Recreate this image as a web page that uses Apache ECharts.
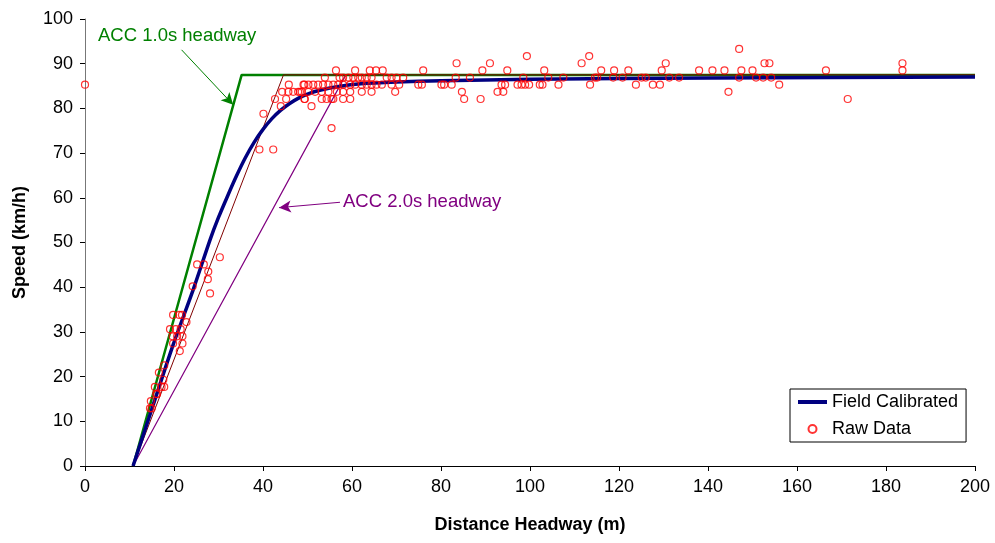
<!DOCTYPE html>
<html>
<head>
<meta charset="utf-8">
<script src="https://cdn.jsdelivr.net/npm/echarts@6/dist/echarts.min.js"></script>
<style>html,body{margin:0;padding:0;background:#fff}#c{width:995px;height:543px}</style>
</head>
<body>
<div id="c"></div>
<script>
// ---- data ----
const xMin = 0, xMax = 200, xStep = 20;
const yMin = 0, yMax = 100, yStep = 10;

const rawData = [
  [0,85.3],
  [14.6,12.9],[15.0,12.9],[14.8,14.5],[16.0,16.1],[16.2,16.1],[15.7,17.7],[17.2,17.7],[17.8,17.7],[17.6,19.3],
  [16.6,20.9],[17.8,22.5],[21.3,25.7],[19.8,27.4],[21.9,27.4],[19.7,29.0],[20.7,29.0],[21.9,29.0],[19.1,30.6],
  [20.4,30.6],[21.5,30.6],[22.8,32.2],[19.8,33.8],[21.2,33.8],[21.8,33.8],[28.1,38.6],[24.2,40.2],[27.6,41.8],
  [27.7,43.5],[25.2,45.1],[26.7,45.1],[30.3,46.7],
  [39.2,70.8],[42.3,70.8],[40.1,78.8],[44.0,80.5],[42.7,82.1],[45.2,82.1],[44.3,83.7],[45.7,83.7],[46.8,83.7],
  [47.9,83.7],[45.8,85.3],[48.3,83.7],[49.3,85.3],[49.3,82.1],[50.9,80.5],[55.4,75.6],
  [56.4,88.5],[60.7,88.5],[64.0,88.5],[65.4,88.5],[66.9,88.5],[76.0,88.5],
  [53.9,86.9],[57.2,86.9],[58.0,86.9],[59.2,86.9],[60.3,86.9],[61.4,86.9],[62.2,86.9],[63.3,86.9],[64.4,86.9],
  [67.8,86.9],[68.9,86.9],[70.0,86.9],[71.5,86.9],
  [49.1,85.3],[50.2,85.3],[51.3,85.3],[52.4,85.3],[53.5,85.3],[54.7,85.3],[55.8,85.3],[56.9,85.3],[58.0,85.3],
  [59.6,85.3],[60.7,85.3],[62.2,85.3],[63.3,85.3],[64.4,85.3],[65.5,85.3],[66.7,85.3],[68.9,85.3],[70.6,85.3],[74.9,85.3],
  [48.7,83.7],[50.2,83.7],[51.7,83.7],[53.2,83.7],[54.7,83.7],[56.6,83.7],[58.0,83.7],[59.6,83.7],[62.2,83.7],
  [64.4,83.7],[69.7,83.7],
  [49.4,82.1],[53.2,82.1],[54.3,82.1],[55.4,82.1],[58.0,82.1],[59.6,82.1],[55.8,82.1],
  [147.0,93.3],
  [99.3,91.7],[113.3,91.7],
  [83.5,90.1],[91.0,90.1],[111.6,90.1],[130.5,90.1],[152.7,90.1],[153.8,90.1],[183.7,90.1],
  [89.3,88.5],[94.9,88.5],[103.2,88.5],[116.0,88.5],[118.9,88.5],[122.1,88.5],[129.6,88.5],[138.0,88.5],
  [141.0,88.5],[143.7,88.5],[147.5,88.5],[150.0,88.5],[166.5,88.5],[183.7,88.5],
  [83.3,86.9],[86.5,86.9],[98.5,86.9],[104.1,86.9],[107.5,86.9],[114.6,86.9],[115.1,86.9],[118.7,86.9],
  [120.8,86.9],[125.1,86.9],[126.0,86.9],[131.3,86.9],[133.5,86.9],[147.0,86.9],[150.8,86.9],[152.4,86.9],[154.2,86.9],
  [75.7,85.3],[80.1,85.3],[80.7,85.3],[82.4,85.3],[93.6,85.3],[94.4,85.3],[97.2,85.3],[98.1,85.3],[98.9,85.3],
  [99.8,85.3],[102.2,85.3],[102.8,85.3],[106.4,85.3],[113.5,85.3],[123.8,85.3],[127.6,85.3],[129.2,85.3],[156.0,85.3],
  [84.7,83.7],[92.7,83.7],[94.0,83.7],[144.6,83.7],
  [85.2,82.1],[88.9,82.1],[171.4,82.1]
];

const fieldCalibrated = [
  [10.8,0],[15,12.7],[19.8,27.1],[24.3,39.4],[28.1,50.6],[30,55.6],[32,60.3],[34,64.8],[36,68.9],[38,72.4],
  [40,75.3],[42,77.7],[44,79.6],[46,81.1],[48,82.3],[50,83.2],[53,84.1],[57,84.9],[62,85.5],[70,85.9],
  [80,86.2],[100,86.5],[140,86.8],[200,87.0]
];

const acc10 = [[10.8,0],[35.2,87.5],[200,87.5]];
const accMid = [[10.8,0],[44.6,87.5],[200,87.5]];
const acc20 = [[10.8,0],[58.6,87.5],[200,87.5]];

const arrow10 = [[21.7,93.1],[33.3,80.8]];
const arrow20 = [[57.3,59.0],[43.6,57.8]];

const labels = {
  acc10: 'ACC 1.0s headway',
  acc20: 'ACC 2.0s headway',
  field: 'Field Calibrated',
  raw: 'Raw Data',
  xName: 'Distance Headway (m)',
  yName: 'Speed (km/h)'
};

// ---- chart ----
const FONT = '"Liberation Sans", Arial, sans-serif';
const chart = echarts.init(document.getElementById('c'), null, {renderer: 'canvas'});

const option = {
  animation: false,
  backgroundColor: '#fff',
  textStyle: {fontFamily: FONT},
  grid: {left: 85, right: 20, top: 19, bottom: 77, containLabel: false},
  xAxis: {
    type: 'value', min: xMin, max: xMax, interval: xStep,
    name: labels.xName, nameLocation: 'middle', nameGap: 50,
    nameTextStyle: {fontFamily: FONT, fontSize: 18, fontWeight: 'bold', color: '#000'},
    axisLine: {lineStyle: {color: '#000', width: 1}},
    axisTick: {show: true, inside: false, length: 5, lineStyle: {color: '#000'}},
    axisLabel: {fontFamily: FONT, fontSize: 18, color: '#000', margin: 12},
    splitLine: {show: false}
  },
  yAxis: {
    type: 'value', min: yMin, max: yMax, interval: yStep,
    name: labels.yName, nameLocation: 'middle', nameGap: 56, nameRotate: 90,
    nameTextStyle: {fontFamily: FONT, fontSize: 18, fontWeight: 'bold', color: '#000'},
    axisLine: {show: true, lineStyle: {color: '#777', width: 1}},
    axisTick: {show: true, inside: false, length: 5, lineStyle: {color: '#000'}},
    axisLabel: {fontFamily: FONT, fontSize: 18, color: '#000', margin: 12},
    splitLine: {show: false}
  },
  legend: {
    data: [
      {name: labels.field, itemStyle: {opacity: 0}, lineStyle: {width: 4, color: '#000080'}},
      {name: labels.raw}
    ],
    orient: 'vertical',
    left: 790, top: 389,
    padding: [4, 8, 4, 6],
    itemGap: 9,
    itemWidth: 29, itemHeight: 8,
    backgroundColor: '#fff',
    borderColor: '#000', borderWidth: 1, borderRadius: 0,
    textStyle: {fontFamily: FONT, fontSize: 18, color: '#000', lineHeight: 18}
  },
  series: [
    {
      name: 'acc20', type: 'line', data: acc20, showSymbol: false, symbol: 'none',
      lineStyle: {color: '#800080', width: 1.2}, z: 2, silent: true
    },
    {
      name: 'acc10', type: 'line', data: acc10, showSymbol: false, symbol: 'none',
      lineStyle: {color: '#008000', width: 2.5}, z: 3, silent: true
    },
    {
      name: 'accMid', type: 'line', data: accMid, showSymbol: false, symbol: 'none',
      lineStyle: {color: '#800000', width: 1}, z: 4, silent: true
    },
    {
      name: labels.field, type: 'line', data: fieldCalibrated, showSymbol: false, symbol: 'none',
      smooth: 0.25,
      lineStyle: {color: '#000080', width: 3.5, join: 'round'}, itemStyle: {color: '#000080'}, z: 5
    },
    {
      name: labels.raw, type: 'scatter', data: rawData, symbol: 'circle', symbolSize: 7,
      symbolKeepAspect: true,
      itemStyle: {color: 'rgba(255,255,255,0)', borderColor: '#ff0000', borderWidth: 1.2},
      z: 6
    },
    {
      name: 'arrows', type: 'line', data: [], silent: true, z: 7,
      markLine: {
        silent: true, animation: false,
        symbol: ['none', 'arrow'], symbolSize: [9, 12],
        label: {show: false},
        emphasis: {disabled: true},
        data: [
          [{coord: arrow10[0], lineStyle: {color: '#008000', width: 1, type: 'solid'}},
           {coord: arrow10[1]}],
          [{coord: arrow20[0], lineStyle: {color: '#800080', width: 1, type: 'solid'}},
           {coord: arrow20[1]}]
        ]
      }
    }
  ],
  graphic: [
    {type: 'text', left: 98, top: 26, z: 10,
     style: {text: labels.acc10, fill: '#008000', font: '18.5px ' + FONT}},
    {type: 'text', left: 343, top: 192, z: 10,
     style: {text: labels.acc20, fill: '#800080', font: '18.5px ' + FONT}}
  ]
};
chart.setOption(option);
</script>
</body>
</html>
